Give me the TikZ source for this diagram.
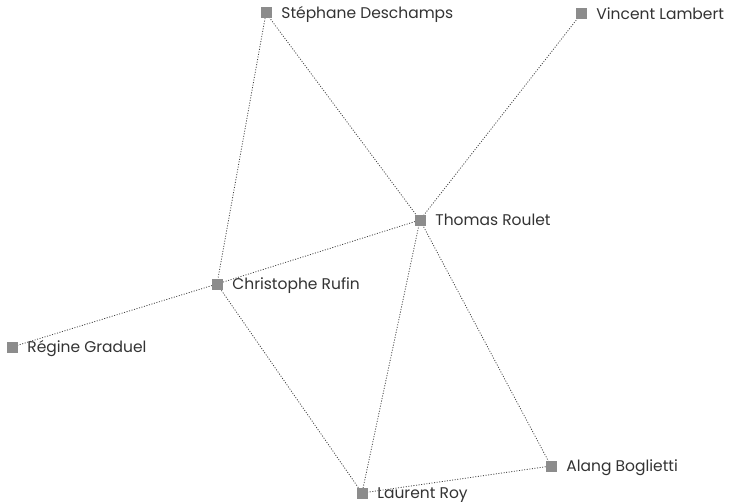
\documentclass[tikz,border=0pt]{standalone}
\usepackage{fontspec}
\setmainfont[Ligatures={NoCommon}]{Poppins}
\usetikzlibrary{backgrounds}
\begin{document}
\begin{tikzpicture}[x=1pt,y=-1pt,
  person/.style={fill=black!45,draw=none,minimum size=11pt,inner sep=0pt,
    label={[text=black!80,font=\fontsize{15.5}{18}\selectfont,inner sep=0pt,
      anchor=base west,xshift=9.5pt,yshift=-5.5pt]east:#1}},
  link/.style={draw=black!75,dash pattern=on 1pt off 1.6pt,line width=0.8pt}]
\useasboundingbox (0,0) rectangle (739,503);
\node[person={Stéphane Deschamps}] (sd) at (266,13) {};
\node[person={Vincent Lambert}]    (vl) at (581,14) {};
\node[person={Thomas Roulet}]      (tr) at (420,220) {};
\node[person={Christophe Rufin}]   (cr) at (217,284) {};
\node[person={Régine Graduel}]     (rg) at (12,347) {};
\node[person={Alang Boglietti}]    (ab) at (551,466) {};
\node[person={Laurent Roy}]        (lr) at (362,493) {};
\begin{scope}[on background layer]
\draw[link] (sd.center) -- (cr.center);
\draw[link] (sd.center) -- (tr.center);
\draw[link] (vl.center) -- (tr.center);
\draw[link] (tr.center) -- (cr.center);
\draw[link] (cr.center) -- (rg.center);
\draw[link] (cr.center) -- (lr.center);
\draw[link] (tr.center) -- (lr.center);
\draw[link] (tr.center) -- (ab.center);
\draw[link] (lr.center) -- (ab.center);
\end{scope}
\end{tikzpicture}
\end{document}
